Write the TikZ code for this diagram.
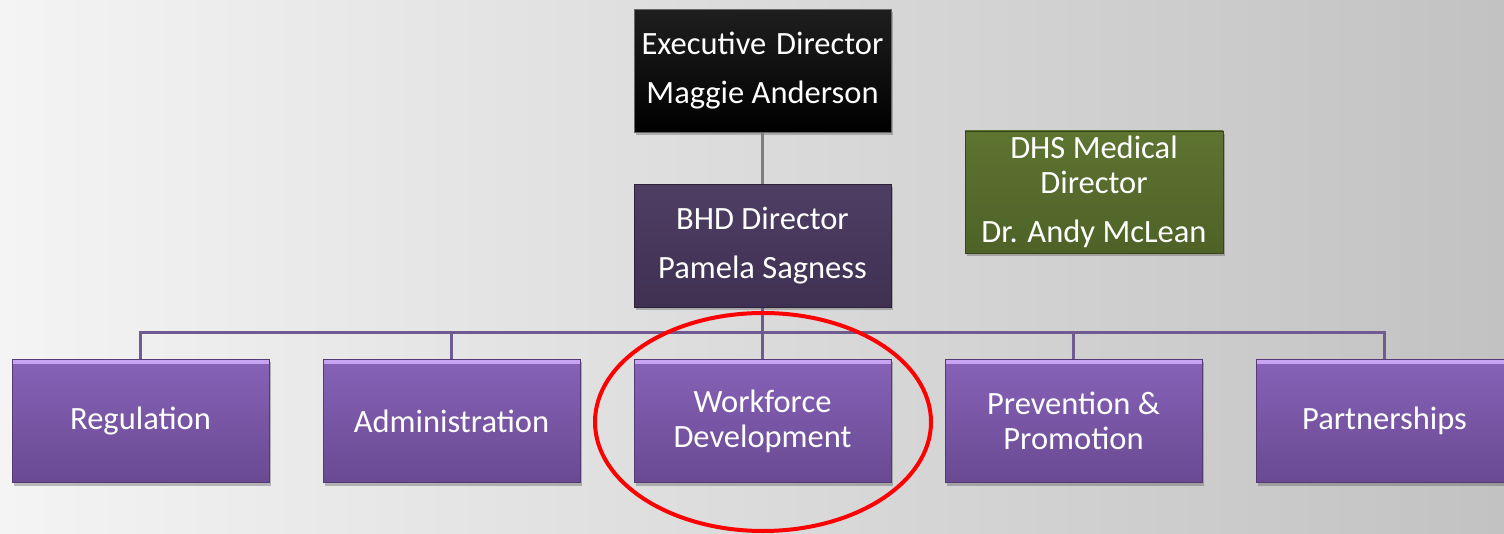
\documentclass[tikz,border=0pt]{standalone}
\usepackage{fontspec}
\setmainfont{Carlito}
\usetikzlibrary{shadows,shapes.geometric}
\definecolor{bgleft}{HTML}{F4F4F4}
\definecolor{bgright}{HTML}{C2C2C2}
\definecolor{unittop}{HTML}{8762B8}
\definecolor{unitbot}{HTML}{694A92}
\definecolor{unitbevel}{HTML}{C7A3F2}
\definecolor{bhdtop}{HTML}{4E3E64}
\definecolor{bhdbot}{HTML}{3F3152}
\definecolor{medtop}{HTML}{5E7431}
\definecolor{medbot}{HTML}{4E6227}
\definecolor{buscol}{HTML}{6F5A92}
\definecolor{linkgray}{HTML}{7F7F7F}
\tikzset{
  box/.style={rectangle, minimum width=257pt, minimum height=123pt, inner sep=0pt,
    align=center, text=white, font=\fontsize{32.5}{35}\selectfont,
    drop shadow={shadow xshift=2pt, shadow yshift=-3pt, opacity=0.35, fill=black!70}},
  unitbox/.style={box, top color=unittop, bottom color=unitbot, draw=unitbot!80!black, line width=0.6pt,
    path picture={\fill[unitbevel] ([yshift=-1pt]path picture bounding box.north west) rectangle ([yshift=-5pt]path picture bounding box.north east);}},
  execbox/.style={box, top color=black!88, bottom color=black, draw=black!60, line width=0.6pt},
  bhdbox/.style={box, top color=bhdtop, bottom color=bhdbot, draw=bhdbot!70!black, line width=0.6pt},
  medbox/.style={box, minimum width=258pt, minimum height=122pt, top color=medtop, bottom color=medbot, draw=medbot!70!black, line width=0.6pt},
  bus/.style={draw=buscol, line width=3pt},
  link/.style={draw=linkgray, line width=3pt},
  mark ring/.style={ellipse, draw=red, line width=4pt, minimum width=336pt, minimum height=218pt, inner sep=0pt}
}
\begin{document}
\begin{tikzpicture}[x=1pt,y=-1pt]
\useasboundingbox (0,0) rectangle (1504,534);
\clip (0,0) rectangle (1504,534);
% page background
\shade[left color=bgleft, right color=bgright] (0,0) rectangle (1504,534);

% top level
\node[execbox] (exec) at (762.5,71) {Executive\hspace{0.3em}Director\\[14pt]Maggie Anderson};
\node[bhdbox] (bhd) at (762.5,246) {BHD Director\\[14pt]Pamela Sagness};
\node[medbox] (med) at (1094,192) {DHS Medical\\Director\\[14pt]Dr. Andy McLean};

% units
\node[unitbox] (reg) at (140.5,421) {Regulation};
\node[unitbox] (adm) at (451.5,421) {Administration};
\node[unitbox] (wfd) at (762.5,421) {Workforce\\Development};
\node[unitbox] (pre) at (1073.5,421) {Prevention \&\\Promotion};
\node[unitbox] (par) at (1384.5,421) {Partnerships};

% connectors
\coordinate (bus) at (762.5,333);
\path[link] (exec.south) -- (bhd.north);
\path[bus] (reg.north) -- (reg.north |- bus) -- (par.north |- bus) -- (par.north);
\path[bus] (bhd.south) -- (wfd.north);
\path[bus] (adm.north) -- (adm.north |- bus);
\path[bus] (pre.north) -- (pre.north |- bus);

% highlight ring
\node[mark ring] (ring) at (763,422) {};
\end{tikzpicture}
\end{document}
